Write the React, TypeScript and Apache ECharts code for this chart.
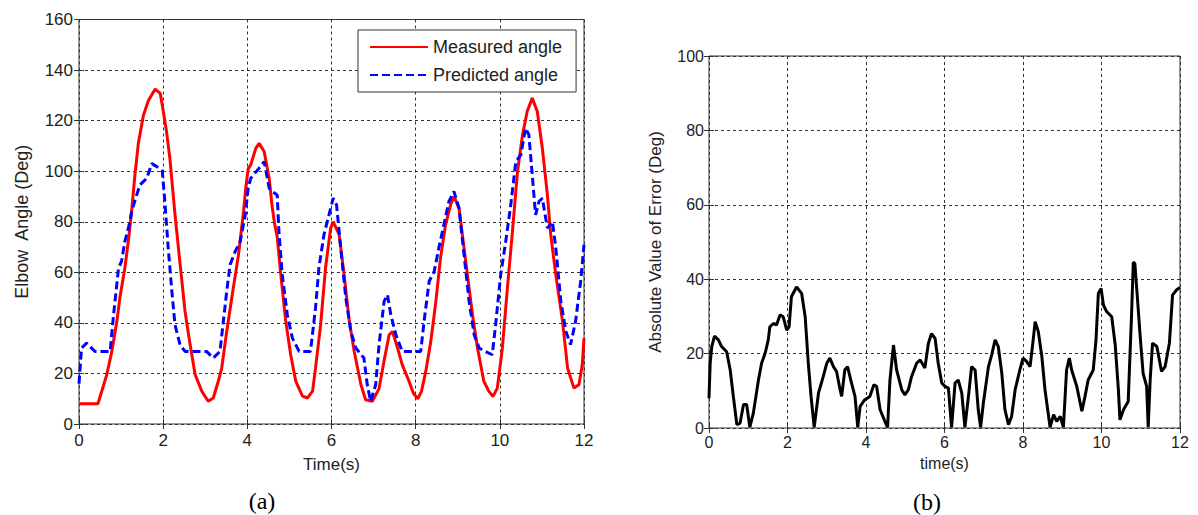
import React, { useEffect, useRef } from "react";
import * as echarts from "echarts";

const xTicks = [0, 2, 4, 6, 8, 10, 12];
const angleTicks = [0, 20, 40, 60, 80, 100, 120, 140, 160];
const errorTicks = [0, 20, 40, 60, 80, 100];
const legendNames = ["Measured angle", "Predicted angle"];

const measured: [number, number][] = [
  [0, 8], [0.2, 8], [0.45, 8], [0.54, 12.9], [0.66, 19.5], [0.78, 28.7], [0.9, 40.6], [0.97, 49.8],
  [1.09, 61.7], [1.17, 72], [1.25, 84], [1.32, 97], [1.41, 111], [1.53, 122], [1.65, 128], [1.81, 132.5],
  [1.93, 130.8], [2.0, 124], [2.08, 115.7], [2.16, 105], [2.28, 83], [2.4, 63.6], [2.52, 44.5], [2.64, 31.4],
  [2.76, 19.5], [2.92, 12.9], [3.07, 9], [3.19, 10.3], [3.31, 16.9], [3.39, 22], [3.51, 36.6], [3.63, 49.8],
  [3.79, 67], [3.91, 84], [3.96, 93], [4.02, 101], [4.08, 102.5], [4.2, 109], [4.28, 111], [4.4, 107.8],
  [4.52, 97], [4.59, 86], [4.65, 79], [4.71, 74], [4.79, 60], [4.91, 41], [5.03, 27.4], [5.15, 17],
  [5.31, 11], [5.43, 10.3], [5.55, 13], [5.62, 22], [5.74, 39], [5.86, 62], [5.98, 77.5], [6.04, 80],
  [6.18, 75], [6.3, 59], [6.42, 41], [6.54, 28.7], [6.7, 15.5], [6.81, 9.6], [6.97, 9], [7.13, 14],
  [7.25, 25], [7.37, 35.3], [7.45, 36.6], [7.57, 30], [7.68, 23.5], [7.84, 17], [7.95, 12], [8.05, 10],
  [8.14, 13], [8.24, 20.8], [8.36, 32.7], [8.48, 48.5], [8.59, 65.6], [8.71, 78.8], [8.83, 86.7], [8.91, 90],
  [9.03, 85.4], [9.11, 74.8], [9.23, 59], [9.35, 43.2], [9.47, 30], [9.62, 16.9], [9.74, 12.9], [9.84, 10.9],
  [9.94, 14.2], [10.06, 30], [10.18, 53.8], [10.3, 76.2], [10.42, 99.9], [10.54, 114.4], [10.65, 123.6],
  [10.77, 128.9], [10.89, 123.6], [11.01, 109.1], [11.13, 90.6], [11.21, 74.8], [11.33, 59], [11.49, 40.6],
  [11.61, 22.1], [11.76, 14.2], [11.88, 15.5], [11.96, 23.5], [12.0, 34],
];

const predicted: [number, number][] = [
  [0, 16], [0.06, 30], [0.18, 32], [0.38, 28.7], [0.74, 28.7], [0.82, 43], [0.94, 61.7], [1.01, 64.3],
  [1.09, 72.2], [1.21, 80], [1.25, 84], [1.37, 90.6], [1.45, 94.6], [1.61, 97.2], [1.73, 103], [1.85, 101.8],
  [1.98, 99.9], [2.04, 88], [2.12, 69.6], [2.2, 53.8], [2.28, 39.3], [2.4, 31.4], [2.52, 28.7], [3.03, 28.7],
  [3.19, 26.1], [3.35, 28.7], [3.43, 40.6], [3.51, 52.4], [3.59, 63], [3.71, 68.2], [3.83, 72.2], [3.95, 82.7],
  [4.02, 93.3], [4.08, 97.2], [4.28, 101.2], [4.4, 103.8], [4.52, 93.3], [4.59, 92], [4.71, 90.6], [4.75, 76.2],
  [4.83, 59], [4.95, 43.2], [5.07, 34], [5.23, 28.7], [5.5, 28.7], [5.62, 45.8], [5.7, 61.7], [5.82, 74.8],
  [5.94, 82.7], [6.04, 89.3], [6.12, 86.7], [6.22, 69.6], [6.34, 49.8], [6.46, 36.6], [6.58, 30], [6.77, 26.1],
  [6.85, 15.5], [6.93, 9], [7.05, 15.5], [7.13, 31.4], [7.25, 48.5], [7.33, 51.1], [7.41, 43.2], [7.53, 35.3],
  [7.68, 28.7], [8.12, 28.7], [8.2, 40.6], [8.32, 56.4], [8.44, 60.3], [8.55, 69.6], [8.67, 78.8], [8.79, 88],
  [8.91, 92], [9.03, 85.4], [9.15, 66.9], [9.27, 48.5], [9.39, 35.3], [9.51, 30], [9.66, 28.7], [9.82, 27.4],
  [9.9, 39.3], [10.02, 59], [10.14, 72.2], [10.26, 86.7], [10.38, 103.8], [10.5, 106.5], [10.61, 117],
  [10.69, 114.4], [10.77, 98.6], [10.85, 82.7], [10.93, 88], [11.01, 89.3], [11.13, 77.5], [11.25, 80],
  [11.33, 69.6], [11.45, 48.5], [11.57, 36.6], [11.68, 31.4], [11.8, 40.6], [11.92, 56.4], [12.0, 70.9],
];

const absError: [number, number][] = [
  [0, 8], [0.03, 17.4], [0.07, 21.9], [0.14, 24.7], [0.24, 23.7], [0.32, 21.9], [0.45, 20.5], [0.54, 15.6],
  [0.62, 8.5], [0.71, 0.9], [0.79, 1.3], [0.88, 6.3], [0.96, 6.3], [1.04, 0.2], [1.13, 4], [1.26, 12.9],
  [1.34, 17.4], [1.43, 20.1], [1.51, 23.7], [1.55, 27.2], [1.64, 28.1], [1.72, 27.7], [1.81, 30.4], [1.89, 29.9],
  [1.98, 26.3], [2.04, 27.2], [2.1, 35.3], [2.23, 37.9], [2.36, 36.2], [2.45, 29.9], [2.53, 17.4], [2.6, 8.5],
  [2.68, 0.2], [2.79, 9.4], [2.91, 13.8], [3.0, 17.4], [3.08, 18.8], [3.17, 16.5], [3.25, 15.2], [3.34, 10.3],
  [3.38, 8.5], [3.46, 15.6], [3.53, 16.5], [3.63, 12.1], [3.72, 8.5], [3.79, 0.2], [3.85, 5.8], [3.97, 7.6],
  [4.1, 8.5], [4.2, 11.6], [4.27, 11.2], [4.36, 4.9], [4.48, 1.8], [4.55, 0.2], [4.61, 12.9], [4.7, 22.3],
  [4.78, 15.6], [4.91, 10.3], [4.99, 8.9], [5.08, 10.3], [5.16, 13.8], [5.29, 17.4], [5.38, 18.3], [5.5, 16.1],
  [5.59, 22.8], [5.67, 25.4], [5.76, 24.1], [5.84, 17.4], [5.93, 12.1], [6.01, 11.2], [6.1, 10.7], [6.18, 0.2],
  [6.27, 12.1], [6.35, 12.9], [6.44, 9.4], [6.52, 0.2], [6.61, 8.5], [6.69, 16.5], [6.78, 15.6], [6.86, 4.9],
  [6.92, 0.2], [6.99, 6.7], [7.12, 16.5], [7.2, 19.6], [7.29, 23.7], [7.37, 21.9], [7.46, 14.7], [7.54, 4.9],
  [7.63, 0.9], [7.71, 3.1], [7.8, 10.3], [7.92, 15.6], [8.0, 18.8], [8.09, 17.9], [8.18, 16.5], [8.25, 22.8],
  [8.31, 28.6], [8.39, 25.9], [8.48, 19.2], [8.56, 10.3], [8.69, 0.2], [8.78, 3.6], [8.86, 1.8], [8.95, 3.1],
  [9.03, 0.2], [9.11, 15.6], [9.18, 18.8], [9.24, 15.6], [9.37, 11.2], [9.5, 4.5], [9.58, 8.5], [9.66, 12.9],
  [9.79, 15.6], [9.86, 23.7], [9.92, 36.2], [9.99, 37.5], [10.05, 33], [10.13, 31.3], [10.26, 29.9],
  [10.35, 22.3], [10.43, 10.3], [10.47, 2.2], [10.56, 4.9], [10.68, 7.1], [10.77, 31.7], [10.81, 44.6],
  [10.85, 44.2], [10.91, 35.7], [10.98, 25.4], [11.06, 14.7], [11.15, 11.2], [11.19, 0.2], [11.24, 12.9],
  [11.3, 22.8], [11.41, 21.9], [11.53, 15.2], [11.62, 16.5], [11.73, 22.8], [11.81, 35.7], [11.91, 37.1],
  [12.0, 37.8],
];

const SANS = "Liberation Sans, Arial, sans-serif";
const SERIF = "Liberation Serif, Times New Roman, serif";
const GRID_DASH = { color: "#333", width: 1, type: [3, 3] as number[] };

function baseX(grid: number, name: string, nameGap: number, fontSize: number, labelMargin: number) {
  return {
    type: "value", gridIndex: grid, min: xTicks[0], max: xTicks[xTicks.length - 1],
    interval: xTicks[1] - xTicks[0], position: "bottom",
    axisLine: { show: false },
    axisTick: { show: true, inside: true, length: 5, lineStyle: { color: "#333" } },
    axisLabel: { fontSize, color: "#222", fontFamily: SANS, margin: labelMargin },
    splitLine: { show: true, lineStyle: GRID_DASH },
    name, nameLocation: "middle", nameGap,
    nameTextStyle: { fontSize, color: "#222", fontFamily: SANS },
  };
}
function topX(grid: number) {
  return {
    type: "value", gridIndex: grid, min: xTicks[0], max: xTicks[xTicks.length - 1],
    interval: xTicks[1] - xTicks[0], position: "top",
    axisLine: { show: false }, axisLabel: { show: false }, splitLine: { show: false },
    axisTick: { show: true, inside: true, length: 5, lineStyle: { color: "#333" } },
  };
}
function baseY(grid: number, ticks: number[], name: string, nameGap: number, fontSize: number, nameSize: number, labelMargin: number) {
  return {
    type: "value", gridIndex: grid, min: ticks[0], max: ticks[ticks.length - 1],
    interval: ticks[1] - ticks[0], position: "left",
    axisLine: { show: false },
    axisTick: { show: true, inside: true, length: 5, lineStyle: { color: "#333" } },
    axisLabel: { fontSize, color: "#222", fontFamily: SANS, margin: labelMargin },
    splitLine: { show: true, lineStyle: GRID_DASH },
    name, nameLocation: "middle", nameGap, nameRotate: 90,
    nameTextStyle: { fontSize: nameSize, color: "#222", fontFamily: SANS },
  };
}
function rightY(grid: number, ticks: number[]) {
  return {
    type: "value", gridIndex: grid, min: ticks[0], max: ticks[ticks.length - 1],
    interval: ticks[1] - ticks[0], position: "right",
    axisLine: { show: false }, axisLabel: { show: false }, splitLine: { show: false },
    axisTick: { show: true, inside: true, length: 5, lineStyle: { color: "#333" } },
  };
}

export default function App() {
  const ref = useRef<HTMLDivElement>(null);
  useEffect(() => {
    if (!ref.current) return;
    const chart = echarts.init(ref.current, undefined, { renderer: "svg" });
    chart.setOption({
      animation: false,
      backgroundColor: "#fff",
      grid: [
        { left: 79, right: 614, top: 19.5, bottom: 91, show: true, borderColor: "#333", borderWidth: 1, backgroundColor: "transparent" },
        { left: 709, right: 18, top: 56, bottom: 87, show: true, borderColor: "#333", borderWidth: 1, backgroundColor: "transparent" },
      ],
      xAxis: [
        baseX(0, "Time(s)", 32, 17, 8),
        topX(0),
        baseX(1, "time(s)", 27, 16, 6),
        topX(1),
      ],
      yAxis: [
        baseY(0, angleTicks, "Elbow  Angle (Deg)", 48, 17, 18, 6),
        rightY(0, angleTicks),
        baseY(1, errorTicks, "Absolute Value of Error (Deg)", 45, 16, 17, 5),
        rightY(1, errorTicks),
      ],
      legend: {
        data: legendNames,
        orient: "vertical",
        left: 358, top: 30,
        itemWidth: 58, itemHeight: 14, itemGap: 8,
        padding: [7, 14, 7, 11],
        borderColor: "#333", borderWidth: 1, borderRadius: 0,
        backgroundColor: "#fff",
        itemStyle: { opacity: 0 },
        textStyle: { fontSize: 18, color: "#222", fontFamily: SANS, lineHeight: 20 },
      },
      series: [
        {
          name: legendNames[0], type: "line", xAxisIndex: 0, yAxisIndex: 0,
          data: measured, symbol: "none", lineStyle: { color: "#ff0000", width: 3 },
          itemStyle: { color: "#ff0000" }, z: 3,
        },
        {
          name: legendNames[1], type: "line", xAxisIndex: 0, yAxisIndex: 0,
          data: predicted, symbol: "none", lineStyle: { color: "#0000ff", width: 3, type: [8, 4] },
          itemStyle: { color: "#0000ff" }, z: 4,
        },
        {
          name: "Absolute error", type: "line", xAxisIndex: 2, yAxisIndex: 2,
          data: absError, symbol: "none", lineStyle: { color: "#000", width: 3 },
          itemStyle: { color: "#000" },
        },
      ],
      graphic: [
        { type: "text", x: 262, y: 501, style: { text: "(a)", font: `24px ${SERIF}`, fill: "#000", textAlign: "center", textVerticalAlign: "middle" } },
        { type: "text", x: 927, y: 502, style: { text: "(b)", font: `24px ${SERIF}`, fill: "#000", textAlign: "center", textVerticalAlign: "middle" } },
      ],
    });
    return () => chart.dispose();
  }, []);
  return <div ref={ref} style={{ position: "absolute", left: 0, top: 0, width: 1198, height: 515 }} />;
}
